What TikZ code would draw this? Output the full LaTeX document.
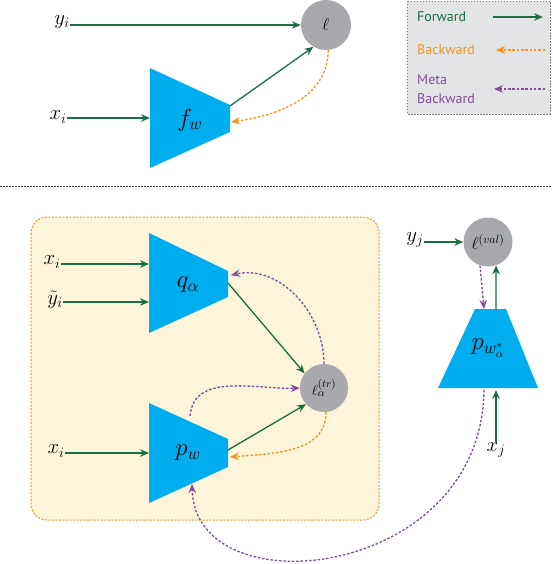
\documentclass[tikz,border=0pt]{standalone}
\usepackage{fontspec}
\newfontfamily\legfont{PT Sans}
\usetikzlibrary{arrows.meta}
\definecolor{tblue}{HTML}{00AEEF}
\definecolor{tgray}{HTML}{A7A9AC}
\definecolor{tgreen}{HTML}{1B6E43}
\definecolor{torange}{HTML}{F7941D}
\definecolor{tpurple}{HTML}{834C9E}
\definecolor{tyellow}{HTML}{FDF5DA}
\definecolor{tleg}{HTML}{E3E4E5}
\tikzset{
  tip/.style={-{Stealth[length=9pt,width=7.5pt]}},
  fwd/.style={draw=tgreen, line width=1.3pt, tip},
  bwd/.style={draw=torange, line width=1.3pt, dash pattern=on 2.5pt off 1.8pt, tip},
  meta/.style={draw=tpurple, line width=1.3pt, dash pattern=on 2.5pt off 1.8pt, tip},
  loss/.style={circle, fill=tgray, minimum size=50pt, inner sep=0pt},
  inp/.style={font=\fontsize{22}{24}\selectfont, inner sep=0pt},
  big/.style={font=\fontsize{26}{28}\selectfont, inner sep=0pt},
  leg/.style={font=\legfont\fontsize{14}{16}\selectfont, inner sep=0pt, anchor=west},
  trap/.style={fill=tblue},
}
\begin{document}
\begin{tikzpicture}[x=1pt,y=-1pt]
\useasboundingbox (0,0) rectangle (552,564);
% ---------------- legend
\path[fill=tleg, draw=gray, dash pattern=on 1.5pt off 1.5pt, line width=0.8pt] (407,1) rectangle (550,114);
\node[leg, text=tgreen] (lf) at (417,17) {Forward};
\coordinate (lfa) at (493,17); \coordinate (lfb) at (543,17);
\draw[fwd] (lfa) -- (lfb);
\node[leg, text=torange] (lb) at (417,50) {Backward};
\coordinate (lba) at (545,50); \coordinate (lbb) at (496,50);
\draw[bwd] (lba) -- (lbb);
\node[leg, text=tpurple, align=left] (lm) at (417,89) {Meta\\[3pt]Backward};
\coordinate (lma) at (545,89); \coordinate (lmb) at (494,89);
\draw[meta] (lma) -- (lmb);
% ---------------- top part
\node[loss] (l) at (326,25) {\fontsize{17}{19}\selectfont$\ell$};
\fill[trap] (150,68) -- (230,105) -- (230,132) -- (150,168) -- cycle;
\node[big] (fw) at (190,120) {$f_w$};
\node[inp] (yi) at (62,22) {$y_i$};
\node[inp] (xi) at (58,117) {$x_i$};
\coordinate (fwin) at (150,118);
\coordinate (fwout) at (230,106);
\coordinate (fwback) at (231,122);
\draw[fwd] (yi.east |- l.west) -- (l.west);
\draw[fwd] (xi.east |- fwin) -- (fwin);
\draw[fwd] (fwout) -- (l.240);
\draw[bwd] (l.275) to[out=-90, in=8] (fwback);
% separator
\coordinate (sepa) at (0,186); \coordinate (sepb) at (552,186);
\draw[black!75, line width=0.8pt, dash pattern=on 1.5pt off 1.5pt] (sepa) -- (sepb);
% ---------------- bottom part
\path[fill=tyellow, draw=torange, line width=1pt, dash pattern=on 2pt off 1.5pt, rounded corners=16pt] (31,217) rectangle (379,520);
\fill[trap] (149,233) -- (228,271) -- (228,297) -- (149,333) -- cycle;
\node[big] (q) at (188,285) {$q_\alpha$};
\fill[trap] (149,403) -- (228,439) -- (228,467) -- (149,503) -- cycle;
\node[big] (pw) at (188,453) {$p_w$};
\node[loss, minimum size=48pt] (ltr) at (324,388) {\fontsize{15}{16}\selectfont$\ell^{(tr)}_{\alpha}$};
\node[inp] (x1) at (52,262) {$x_i$};
\node[inp] (y1) at (55,300) {$\tilde{y}_i$};
\node[inp] (x2) at (56,451) {$x_i$};
\coordinate (qin1) at (149,264); \coordinate (qin2) at (149,302);
\coordinate (pin) at (149,453);
\draw[fwd] (x1.east |- qin1) -- (qin1);
\draw[fwd] (y1.east |- qin2) -- (qin2);
\draw[fwd] (x2.east |- pin) -- (pin);
\coordinate (qout) at (228,283); \coordinate (qback) at (231,275);
\coordinate (pout) at (228,450); \coordinate (pback) at (230,457);
\coordinate (ptop) at (190,416); \coordinate (pbot) at (192,484);
\draw[fwd] (qout) -- (ltr.143);
\draw[fwd] (pout) -- (ltr.222);
\draw[meta] (ltr.north) to[out=90, in=12] (qback);
\draw[meta] (ptop) to[out=85, in=182] (ltr.west);
\draw[bwd] (ltr.-85) to[out=-90, in=5] (pback);
% ---------------- right part
\node[loss, minimum size=49pt] (lval) at (488,242) {\fontsize{17}{19}\selectfont$\ell^{(val)}$};
\fill[trap] (475,309) -- (506,309) -- (538,388) -- (438,388) -- cycle;
\node[big] (pstar) at (488,348) {$p_{w^*_\alpha}$};
\node[inp] (yj) at (415,240) {$y_j$};
\node[inp] (xj) at (496,450) {$x_j$};
\draw[fwd] (yj.east |- lval.west) -- (lval.west);
\coordinate (ptopr) at (496,309); \coordinate (ptopl) at (484,309);
\coordinate (pbotr) at (496,390); \coordinate (pbotl) at (484,390);
\draw[fwd] (ptopr) -- (lval.-71);
\draw[meta] (lval.-109) -- (ptopl);
\draw[fwd] (xj.north) -- (pbotr);
\draw[meta] (pbotl) .. controls (482,580) and (195,610) .. (pbot);
\end{tikzpicture}
\end{document}
